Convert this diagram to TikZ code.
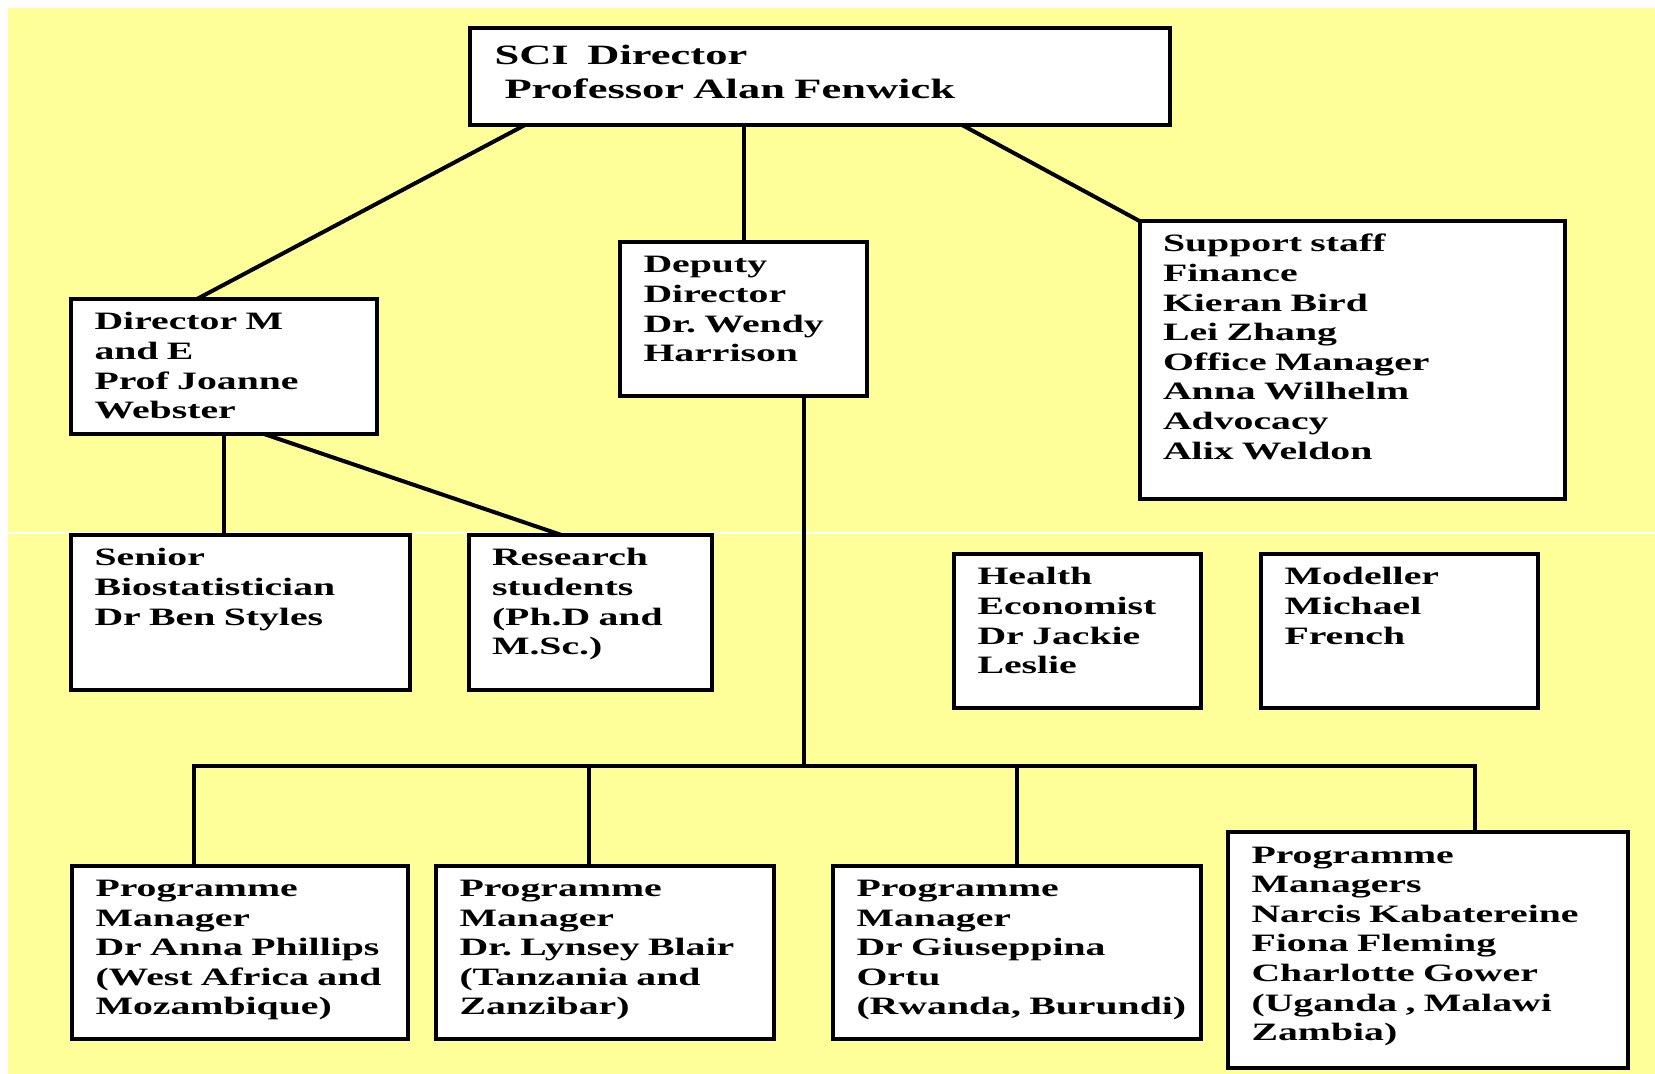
\documentclass[tikz,border=0pt]{standalone}
\usepackage{fontspec}
\setmainfont{Liberation Serif}[FakeStretch=1.59]
\usepackage{tikz}
\usetikzlibrary{positioning,calc}
\frenchspacing
\definecolor{chartyellow}{RGB}{255,255,153}
\tikzset{
	every node/.style={font=\fontsize{12.5}{14.8}\selectfont\bfseries}
}
\tikzset{
	box/.style={draw,fill=white,line width=2pt,anchor=north west,align=left,outer sep=0pt,
		inner xsep=11.75pt,inner ysep=6pt,text height=9.5pt}
}
\tikzset{
	link/.style={draw,line width=2pt}
}

\begin{document}
\begin{tikzpicture}[x=0.5pt,y=-0.5pt]
      \useasboundingbox (0,0) rectangle (1655,1074);
      \fill[chartyellow] (8,8) rectangle (1655,1074);
      \draw[white,line width=0.75pt] (8,533) -- (1655,533);
      \node[box,font=\fontsize{14}{17.3}\selectfont\bfseries,inner xsep=12.5pt,text height=11.9pt,text width=325.25pt,text depth=24.35pt] (sci) at (469.5,28.5) {SCI\ \ Director\\\hspace*{5pt}Professor Alan Fenwick};
      \node[box,text width=129.5pt,text depth=46pt] (dirm) at (71,299) {Director M\\and E\\Prof Joanne\\Webster};
      \node[box,text width=100pt,text depth=55.5pt] (deputy) at (620,242) {Deputy\\Director\\Dr. Wendy\\Harrison};
      \node[box,text width=189.25pt,text depth=117.5pt] (support) at (1139.5,221) {Support staff\\Finance\\Kieran Bird\\Lei Zhang\\Office Manager\\Anna Wilhelm\\Advocacy\\Alix Weldon};
      \node[box,text width=146pt,text depth=56pt] (senior) at (71,535) {Senior\\Biostatistician\\Dr Ben Styles};
      \node[box,text width=98.25pt,text depth=56pt,right=29.25pt of senior] (research) {Research\\students\\(Ph.D and\\M.Sc.)};
      \node[box,text width=100pt,text depth=55.5pt] (health) at (954,554) {Health\\Economist\\Dr Jackie\\Leslie};
      \node[box,text width=115pt,text depth=55.5pt,right=30pt of health] (modeller) {Modeller\\Michael\\French};
      \node[box,text width=144.25pt,text depth=65pt] (pm1) at (72,865.5) {Programme\\Manager\\\mbox{Dr Anna Phillips}\\\mbox{(West Africa and}\\Mozambique)};
      \node[box,text width=145.5pt,text depth=65pt,right=14.25pt of pm1] (pm2) {Programme\\Manager\\\mbox{Dr. Lynsey Blair}\\(Tanzania and\\Zanzibar)};
      \node[box,text width=160.5pt,text depth=65pt,right=29.5pt of pm2] (pm3) {Programme\\Manager\\Dr Giuseppina\\Ortu\\\mbox{(Rwanda, Burundi)}};
      \node[box,text width=176.5pt,text depth=96.5pt] (pm4) at (1228,832) {Programme\\Managers\\Narcis Kabatereine\\Fiona Fleming\\Charlotte Gower\\(Uganda , Malawi\\Zambia)};
      \draw[link] ([xshift=27.75pt]sci.south west) -- ([xshift=63pt]dirm.north west);
      \draw[link] (deputy.north |- sci.south) -- (deputy.north);
      \draw[link] ([xshift=246.25pt]sci.south west) -- (support.north west);
      \draw[link] ([xshift=76.5pt]dirm.south west) -- ([xshift=76.5pt]senior.north west);
      \draw[link] ([xshift=96.5pt]dirm.south west) -- ([xshift=46.5pt]research.north west);
      \coordinate (bus) at (804,766);
      \coordinate (pm1top) at ([xshift=61pt]pm1.north west);
      \coordinate (pm2top) at ([xshift=76.5pt]pm2.north west);
      \coordinate (pm4top) at ([xshift=123.5pt]pm4.north west);
      \draw[link] ([xshift=92pt]deputy.south west) -- (bus);
      \draw[link] (pm1top) |- (bus) -| (pm4top);
      \draw[link] (pm2top) -- (pm2top |- bus);
      \draw[link] (pm3.north) -- (pm3.north |- bus);
    \end{tikzpicture}
\end{document}
